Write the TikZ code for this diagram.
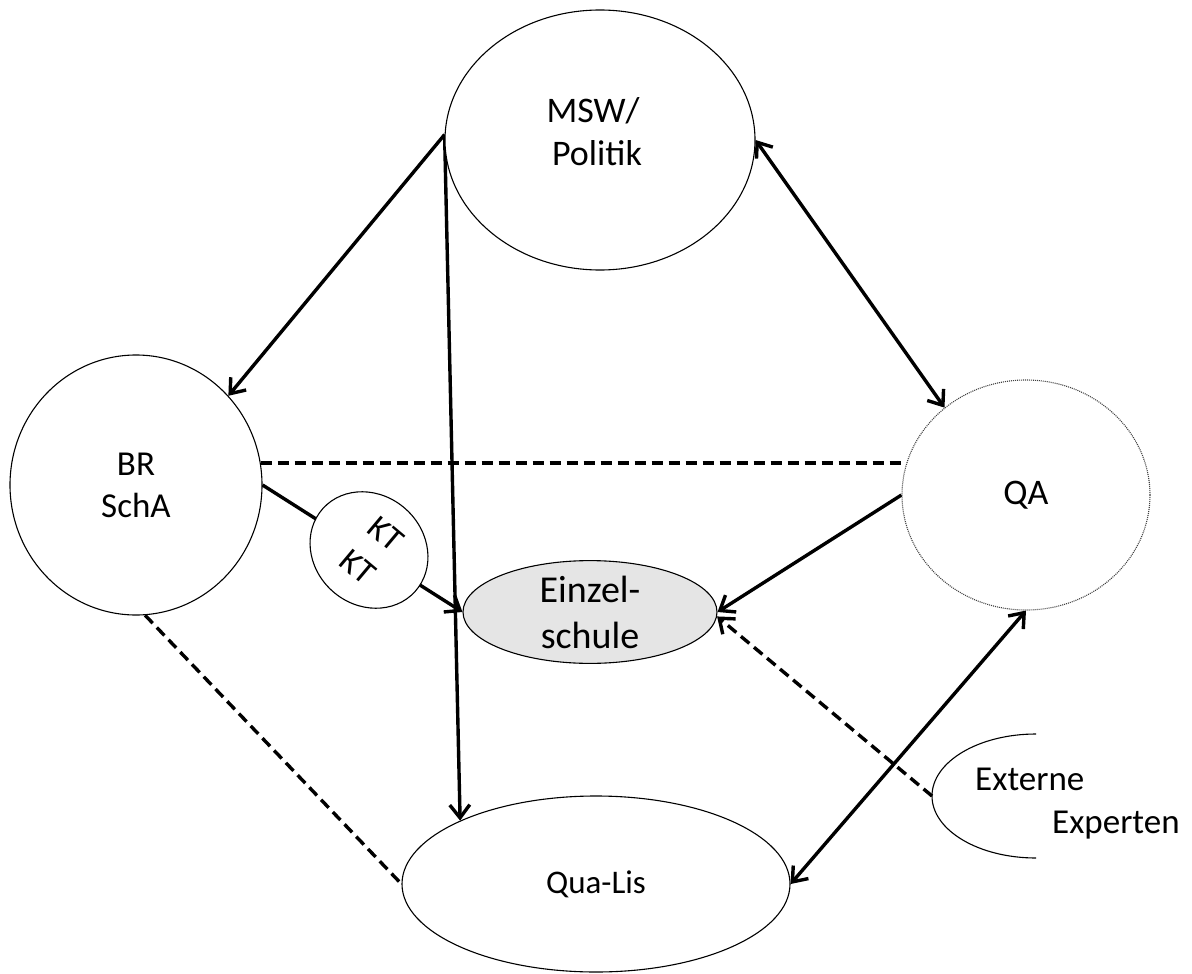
\documentclass[tikz,border=0pt]{standalone}
\usepackage{fontspec}
\setmainfont{Carlito}
\usetikzlibrary{shapes.geometric,arrows.meta,backgrounds}
\begin{document}
\begin{tikzpicture}[x=1pt,y=-1pt,
  blob/.style={ellipse,draw=black,line width=1.1pt,fill=white,inner sep=0pt,align=center,font=\fontsize{35}{43}\selectfont},
  lbl/.style={inner sep=0pt,anchor=base,font=\fontsize{36}{43}\selectfont},
  conn/.style={line width=3.4pt,draw=black},
  dconn/.style={conn,dash pattern=on 11pt off 6pt},
  tip/.style={-{Straight Barb[length=13pt,width=20pt]}},
  tips/.style={{Straight Barb[length=13pt,width=20pt]}-{Straight Barb[length=13pt,width=20pt]}}]
\useasboundingbox (0,0) rectangle (1192,974);
\node[blob,minimum width=310pt,minimum height=260pt] (msw) at (600,140) {};
\node[lbl] (mswA) at (593,122) {MSW/};
\node[lbl] (mswB) at (597,165) {Politik};
\node[blob,minimum width=252pt,minimum height=260pt,font=\fontsize{35}{42}\selectfont] (br) at (136,485) {BR\\SchA};
\node[blob,draw=black!75,dash pattern=on 1pt off 1pt,minimum width=248pt,minimum height=230pt,font=\fontsize{36}{43}\selectfont] (qa) at (1026,495) {QA};
\node[blob,fill=black!10,minimum width=254pt,minimum height=94pt,font=\fontsize{38}{46}\selectfont] (einzel) at (590,612) {Einzel-\\schule};
\node[blob,minimum width=388pt,minimum height=176pt,font=\fontsize{33}{40}\selectfont] (qualis) at (596,884) {Qua-Lis};
\node[blob,rotate=-42,minimum width=124pt,minimum height=110pt] (kt) at (369,550) {};
\node[inner sep=0pt,rotate=-40,font=\fontsize{34}{40}\selectfont] (ktA) at (386,534) {KT};
\node[inner sep=0pt,rotate=-40,font=\fontsize{34}{40}\selectfont] (ktB) at (358,567) {KT};
% Externe Experten (half ellipse)
\draw[line width=1.1pt] (1036,734) arc[start angle=270,end angle=90,x radius=104,y radius=62];
\coordinate (ext) at (932,796);
\node[anchor=base west,inner sep=0pt,font=\fontsize{35}{43}\selectfont] (extA) at (975,790) {Externe};
\node[anchor=base west,inner sep=0pt,font=\fontsize{35}{43}\selectfont] (extB) at (1052,833) {Experten};
\begin{scope}[on background layer]
\draw[conn,tip] (msw.178) -- (br.44);
\draw[conn,tip] (msw.178) -- (qualis.155);
\draw[conn,tips] (msw.east) -- (qa.133);
\draw[dconn] (br.10) -- (br.10 -| qa.west);
\draw[conn,tip] (br.east) -- (einzel.west);
\draw[conn,tip] (qa.west) -- (einzel.east);
\draw[dconn,tip] (ext) -- (einzel.-2);
\draw[dconn] (br.-86) -- (qualis.west);
\draw[conn,tips] (qa.south) -- (qualis.east);
\end{scope}
\end{tikzpicture}
\end{document}
